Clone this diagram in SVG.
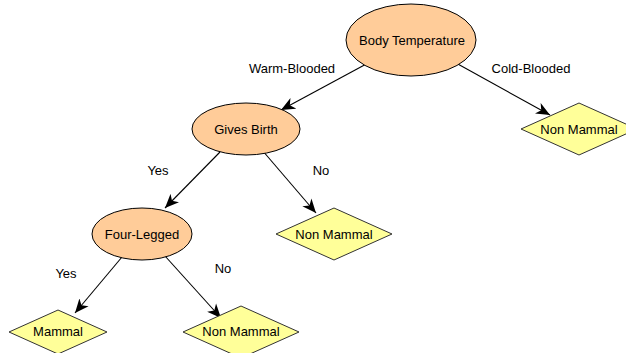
<svg xmlns="http://www.w3.org/2000/svg" width="626" height="353" viewBox="0 0 626 353">
  <style>
    .decision ellipse { fill: #ffcc99; stroke: #000; stroke-width: 1; }
    .leaf polygon { fill: #ffff99; stroke: #333; stroke-width: 1; }
    text { font-family: "Liberation Sans", Arial, sans-serif; font-size: 13px; fill: #000; text-anchor: middle; dominant-baseline: central; }
    .edge line { stroke: #000; stroke-width: 1.1; marker-end: url(#arrow); }
  </style>
  <defs>
    <marker id="arrow" markerUnits="userSpaceOnUse" markerWidth="15" markerHeight="13" refX="14" refY="6.5" orient="auto">
      <path d="M14,6.5 L0,0.5 L4,6.5 L0,12.5 Z" fill="#000"/>
    </marker>
  </defs>
  <rect width="626" height="353" fill="#fff"/>

  <!-- connectors -->
  <g id="connectors">
    <g class="edge"><line x1="370" y1="62" x2="281" y2="110"/><text x="292" y="68">Warm-Blooded</text></g>
    <g class="edge"><line x1="456" y1="63" x2="550" y2="115"/><text x="531" y="68">Cold-Blooded</text></g>
    <g class="edge"><line x1="220" y1="152" x2="165" y2="208"/><text x="158" y="170">Yes</text></g>
    <g class="edge"><line x1="262" y1="150" x2="316" y2="213"/><text x="321" y="170">No</text></g>
    <g class="edge"><line x1="122" y1="257" x2="75" y2="313"/><text x="66" y="273">Yes</text></g>
    <g class="edge"><line x1="165" y1="256" x2="221" y2="318"/><text x="223" y="268">No</text></g>
  </g>

  <!-- decision nodes -->
  <g id="body-temperature" class="decision">
    <ellipse cx="411" cy="40" rx="65" ry="36"/>
    <text x="412" y="40">Body Temperature</text>
  </g>
  <g id="gives-birth" class="decision">
    <ellipse cx="246" cy="129" rx="54" ry="26"/>
    <text x="246" y="129">Gives Birth</text>
  </g>
  <g id="four-legged" class="decision">
    <ellipse cx="142" cy="234" rx="50" ry="26"/>
    <text x="142" y="234">Four-Legged</text>
  </g>

  <!-- leaf nodes -->
  <g id="non-mammal-cold" class="leaf">
    <polygon points="521,129 579,103 637,129 579,155"/>
    <text x="579" y="129">Non Mammal</text>
  </g>
  <g id="non-mammal-nobirth" class="leaf">
    <polygon points="276,234 334,208 392,234 334,260"/>
    <text x="334" y="234">Non Mammal</text>
  </g>
  <g id="mammal" class="leaf">
    <polygon points="9,332 58,310 107,332 58,354"/>
    <text x="58" y="331">Mammal</text>
  </g>
  <g id="non-mammal-legless" class="leaf">
    <polygon points="183,332 241,306 299,332 241,358"/>
    <text x="241" y="331">Non Mammal</text>
  </g>
</svg>
